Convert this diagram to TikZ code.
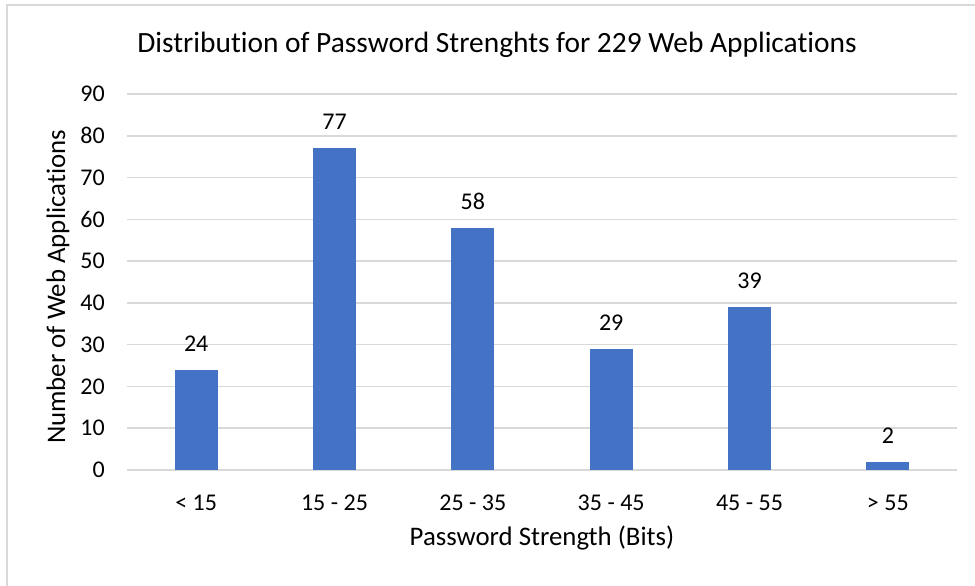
\documentclass[tikz,border=0pt]{standalone}
\usepackage{fontspec}
\setmainfont{Carlito}[Ligatures=NoCommon]
\definecolor{barblue}{HTML}{4472C4}
\definecolor{gridgray}{HTML}{D9D9D9}
\definecolor{framegray}{HTML}{D9D9D9}
\begin{document}
\begin{tikzpicture}[x=1pt,y=-1pt,
  grid/.style={draw=gridgray,line width=1.5pt},
  bar/.style={fill=barblue,draw=none},
  ticklbl/.style={font=\fontsize{24}{28}\selectfont,anchor=east,inner sep=0pt},
  catlbl/.style={font=\fontsize{24}{28}\selectfont,anchor=base,inner sep=0pt},
  datalbl/.style={font=\fontsize{24}{28}\selectfont,anchor=base,inner sep=0pt},
  axtitle/.style={font=\fontsize{26.8}{30}\selectfont,anchor=base,inner sep=0pt},
  charttitle/.style={font=\fontsize{29.4}{33}\selectfont,anchor=base,inner sep=0pt}]
\useasboundingbox (0,0) rectangle (975,586);
\fill[white] (0,0) rectangle (975,586);
% frame
\draw[framegray,line width=1.5pt] (7,600) -- (7,5) -- (990,5);
% gridlines and tick labels
\foreach \v in {0,10,...,90}{
  \pgfmathsetmacro{\gy}{470-\v*4.17778}
  \draw[grid] (127,\gy) -- (957,\gy);
  \node[ticklbl] (t\v) at (105,\gy) {\v};
}
% bars
\foreach \i/\val/\lab in {0/24/{< 15},1/77/{15 - 25},2/58/{25 - 35},3/29/{35 - 45},4/39/{45 - 55},5/2/{> 55}}{
  \pgfmathsetmacro{\cx}{127+138.3333*(\i+0.5)}
  \pgfmathsetmacro{\bt}{470-\val*4.17778}
  \fill[bar] (\cx-21.5,470) rectangle (\cx+21.5,\bt);
  \node[datalbl] (d\i) at (\cx,\bt-18.5) {\val};
  \node[catlbl] (c\i) at (\cx,510) {\lab};
}
\node[charttitle] (title) at (497,53) {Distribution of Password Strenghts for 229 Web Applications};
\node[axtitle] (xt) at (542,545) {Password Strength (Bits)};
\node[axtitle,rotate=90] (yt) at (65,287) {Number of Web Applications};
\end{tikzpicture}
\end{document}
